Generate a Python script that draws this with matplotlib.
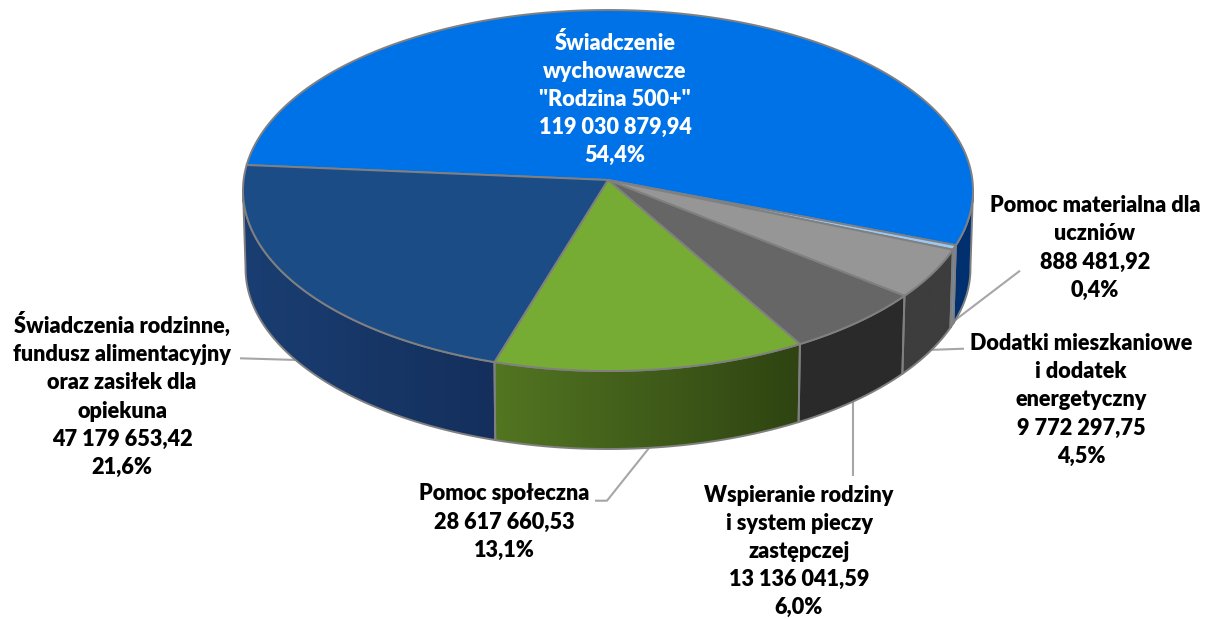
import numpy as np
import matplotlib
matplotlib.use("Agg")
import matplotlib.pyplot as plt
from matplotlib.colors import to_rgb
from matplotlib.patches import Polygon

plt.rcParams['font.family'] = ['Lato', 'DejaVu Sans']

# values clockwise from the start of the big slice
names = ['Świadczenie\nwychowawcze\n"Rodzina 500+"',
         'Pomoc materialna dla\nuczniów',
         'Dodatki mieszkaniowe\ni dodatek\nenergetyczny',
         'Wspieranie rodziny\ni system pieczy\nzastępczej',
         'Pomoc społeczna',
         'Świadczenia rodzinne,\nfundusz alimentacyjny\noraz zasiłek dla\nopiekuna']
values = [119030879.94, 888481.92, 9772297.75, 13136041.59, 28617660.53, 47179653.42]
value_text = ['119 030 879,94', '888 481,92', '9 772 297,75', '13 136 041,59', '28 617 660,53', '47 179 653,42']
pct_text = ['54,4%', '0,4%', '4,5%', '6,0%', '13,1%', '21,6%']

top_colors = ['#0072E8', '#9CC8F5', '#969696', '#666666', '#76AC34', '#1C4C86']
side_left = ['#003070', '#6F93B8', '#3D3D3D', '#2A2A2A', '#527521', '#1A3E72']
side_right = ['#003070', '#6F93B8', '#3D3D3D', '#2A2A2A', '#2F4412', '#142F5C']

label_xy = [(615, 99), (1095, 248), (1081, 400), (799, 551.5), (504, 522), (122, 395)]
label_color = ['white', 'black', 'black', 'black', 'black', 'black']

leaders = [([1020, 950], [270.7, 324]),
           ([964, 927], [348.7, 350]),
           ([853, 853], [400, 476]),
           ([595, 607, 649], [500.7, 500.7, 448]),
           ([240, 297], [358.3, 360])]

# pie geometry in pixels, tilted disc with some perspective
cx, cy = 608, 180
ax_a, ax_b, persp = 364.4, 179.9, 0.0582
depth = 78
base_shrink = 0.993
start_deg = 175.2
wall_from, wall_to = 183, 357
edge = '#808080'


def rim(deg, low=False):
    t = np.radians(deg)
    w = 1 + persp * np.sin(t)
    x = ax_a * np.cos(t) / w
    y = cy - ax_b * np.sin(t) / w
    if low:
        return cx + x * base_shrink, y + depth
    return cx + x, y


fig = plt.figure(figsize=(12.05, 6.19), dpi=100)
ax = fig.add_axes([0, 0, 1, 1])

shares = np.array(values) / sum(values) * 360
ends = start_deg - np.cumsum(shares)
starts = ends + shares

# side wall first, only the part of the rim facing us
for i in range(len(values)):
    for shift in (0, 360):
        p = max(ends[i] + shift, wall_from)
        q = min(starts[i] + shift, wall_to)
        if q <= p:
            continue
        d = np.linspace(p, q, 80)
        xt, yt = rim(d)
        xb, yb = rim(d, low=True)
        xs = np.r_[xt, xb[::-1]]
        ys = np.r_[yt, yb[::-1]]
        poly = Polygon(np.c_[xs, ys], closed=True, facecolor='none', edgecolor=edge, lw=1.4, zorder=3)
        ax.add_patch(poly)
        grad = np.linspace(to_rgb(side_left[i]), to_rgb(side_right[i]), 64)[None, :, :]
        im = ax.imshow(grad, extent=(xs.min(), xs.max(), ys.max(), ys.min()), aspect='auto',
                       interpolation='bilinear', zorder=2)
        im.set_clip_path(poly)

# top face
for i in range(len(values)):
    d = np.linspace(starts[i], ends[i], 200)
    xt, yt = rim(d)
    xs = np.r_[cx, xt]
    ys = np.r_[cy, yt]
    ax.add_patch(Polygon(np.c_[xs, ys], closed=True, facecolor=top_colors[i], edgecolor=edge, lw=1.4,
                         joinstyle='round', zorder=4))

for lx, ly in leaders:
    ax.plot(lx, ly, color='#A6A6A6', lw=1.5, zorder=1, solid_capstyle='butt')

for i in range(len(values)):
    txt = names[i] + '\n' + value_text[i] + '\n' + pct_text[i]
    ax.text(label_xy[i][0], label_xy[i][1], txt, ha='center', va='center', multialignment='center',
            fontsize=15.6, fontweight='heavy', color=label_color[i], linespacing=1.42, zorder=6)

ax.set_xlim(0, 1205)
ax.set_ylim(619, 0)
ax.axis('off')
fig.savefig('out.png', dpi=100, facecolor='white')
